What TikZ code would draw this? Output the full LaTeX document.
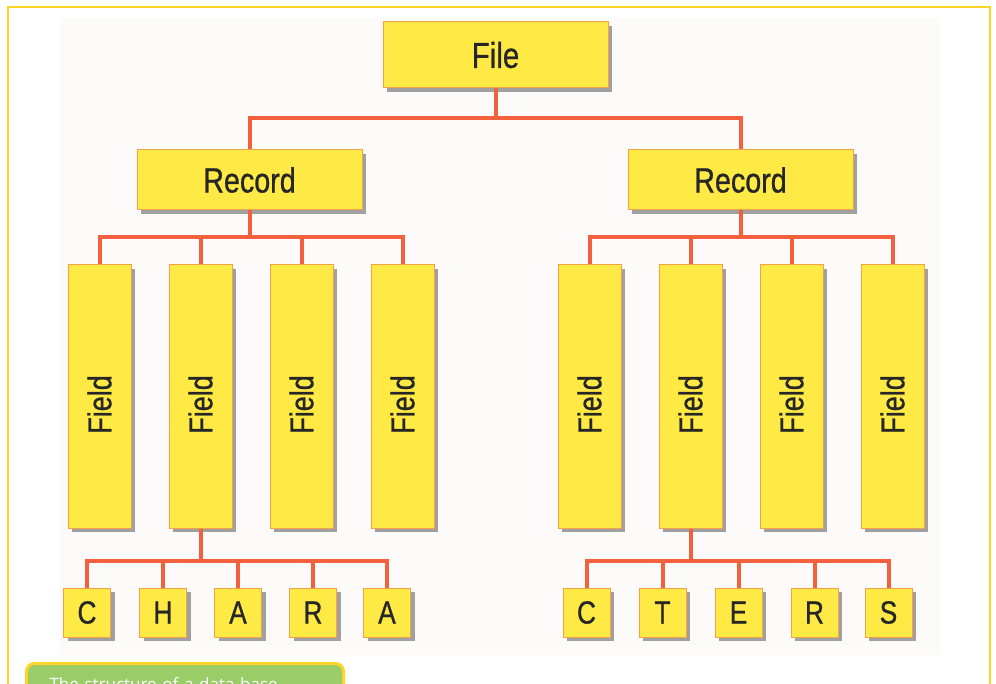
\documentclass[tikz,border=0pt]{standalone}
\usepackage{fontspec}
\setmainfont{Liberation Sans}[FakeStretch=0.82, FakeBold=0.8]
\newfontfamily\piefont{Open Sans}
\definecolor{esqAmarillo}{HTML}{FFEA45}
\definecolor{esqBorde}{HTML}{F4A14A}
\definecolor{esqLinea}{HTML}{F2603D}
\definecolor{esqSombra}{HTML}{8A8A8A}
\definecolor{esqMarco}{HTML}{FFD426}
\definecolor{esqVerde}{HTML}{9ACD68}
\definecolor{esqFondo}{HTML}{FDFBF9}
\usetikzlibrary{
	positioning,
	shadows
}
\tikzset{
	caja/.style={
		draw=esqBorde,
		line width=1pt,
		fill=esqAmarillo,
		inner sep=0pt,
		text=black!85,
		drop shadow={shadow xshift=4pt, shadow yshift=-4pt, fill=esqSombra, opacity=0.8}
	},
	archivo/.style={
		caja,
		minimum width=225pt,
		minimum height=66pt,
		font=\fontsize{36}{40}\selectfont
	},
	registro/.style={
		caja,
		minimum width=225pt,
		minimum height=60pt,
		font=\fontsize{35}{40}\selectfont
	},
	campo/.style={
		caja,
		minimum width=63pt,
		minimum height=263pt,
		font=\fontsize{33}{36}\selectfont
	},
	letra/.style={
		caja,
		minimum width=47pt,
		minimum height=49pt,
		font=\fontsize{32}{36}\selectfont
	},
	linea/.style={
		draw=esqLinea,
		line width=4pt
	},
	marco/.style={
		draw=esqMarco,
		line width=2pt
	},
	leyenda/.style={
		draw=esqMarco,
		line width=3pt,
		fill=esqVerde,
		rounded corners=8pt,
		anchor=north west,
		inner xsep=23pt,
		inner ysep=14pt,
		text width=271pt,
		align=left,
		text=white,
		font=\piefont\fontsize{17}{20}\selectfont
	}
}
\newcommand{\Vertical}[1]{\rotatebox{90}{#1\hspace{16pt}}}

\begin{document}
\begin{tikzpicture}[x=1pt, y=-1pt, node distance=37pt]
		\clip (0,0) rectangle (996,684);
		\fill[white] (0,0) rectangle (996,684);
		\fill[esqFondo] (60,18) rectangle (940,655);
		\draw[marco] (8,7) rectangle (990,740);
		\node[archivo] (file) at (495.5,55) {File};
		\node[registro] (regA) at (249.5,180) {Record};
		\node[registro] (regB) at (740.5,180) {Record};
		\node[campo] (cA1) at (99.5,396.5) {\Vertical{Field}};
		\node[campo, right=of cA1] (cA2) {\Vertical{Field}};
		\node[campo, right=of cA2] (cA3) {\Vertical{Field}};
		\node[campo, right=of cA3] (cA4) {\Vertical{Field}};
		\node[campo] (cB1) at (589.5,396.5) {\Vertical{Field}};
		\node[campo, right=of cB1] (cB2) {\Vertical{Field}};
		\node[campo, right=of cB2] (cB3) {\Vertical{Field}};
		\node[campo, right=of cB3] (cB4) {\Vertical{Field}};
		\node[letra] (lA1) at (87,612.5) {C};
		\node[letra, right=28pt of lA1] (lA2) {H};
		\node[letra, right=27pt of lA2] (lA3) {A};
		\node[letra, right=27pt of lA3] (lA4) {R};
		\node[letra, right=26pt of lA4] (lA5) {A};
		\node[letra] (lB1) at (586.5,612.5) {C};
		\node[letra, right=28pt of lB1] (lB2) {T};
		\node[letra, right=28pt of lB2] (lB3) {E};
		\node[letra, right=28pt of lB3] (lB4) {R};
		\node[letra, right=26pt of lB4] (lB5) {S};
		\draw[linea] (file.south) -- ++(0,30) -| (regA.north);
		\draw[linea] (file.south) -- ++(0,30) -| (regB.north);
		\draw[linea] (regA.south) -- ++(0,27) -| (cA1.north);
		\draw[linea] (regA.south) -- ++(0,27) -| (cA2.north);
		\draw[linea] (regA.south) -- ++(0,27) -| (cA3.north);
		\draw[linea] (regA.south) -- ++(0,27) -| (cA4.north);
		\draw[linea] (regB.south) -- ++(0,27) -| (cB1.north);
		\draw[linea] (regB.south) -- ++(0,27) -| (cB2.north);
		\draw[linea] (regB.south) -- ++(0,27) -| (cB3.north);
		\draw[linea] (regB.south) -- ++(0,27) -| (cB4.north);
		\draw[linea] (cA2.south) -- ++(0,32) -| (lA1.north);
		\draw[linea] (cA2.south) -- ++(0,32) -| (lA2.north);
		\draw[linea] (cA2.south) -- ++(0,32) -| (lA3.north);
		\draw[linea] (cA2.south) -- ++(0,32) -| (lA4.north);
		\draw[linea] (cA2.south) -- ++(0,32) -| (lA5.north);
		\draw[linea] (cB2.south) -- ++(0,32) -| (lB1.north);
		\draw[linea] (cB2.south) -- ++(0,32) -| (lB2.north);
		\draw[linea] (cB2.south) -- ++(0,32) -| (lB3.north);
		\draw[linea] (cB2.south) -- ++(0,32) -| (lB4.north);
		\draw[linea] (cB2.south) -- ++(0,32) -| (lB5.north);
		\node[leyenda] (pie) at (25,662) {The structure of a data base};
	\end{tikzpicture}
\end{document}
